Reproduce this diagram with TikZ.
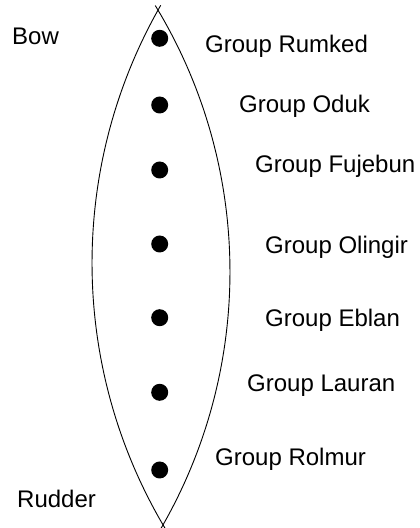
\documentclass[tikz,border=0pt]{standalone}
\usepackage{fontspec}
\setmainfont{Liberation Sans}
\begin{document}
\begin{tikzpicture}[x=1pt,y=1pt,
  hull/.style={line width=0.9pt,black},
  seat/.style={circle,fill=black,inner sep=0pt,minimum size=17pt},
  lbl/.style={anchor=base west,inner sep=0pt,font=\fontsize{24}{28}\selectfont}]
\useasboundingbox (0,0) rectangle (420,528);
% hull: two circular arcs
\draw[hull] ([shift={(150.15:518)}]610,264.9) arc[start angle=150.15, end angle=210.97, radius=518];
\draw[hull] ([shift={(31.35:511.8)}]-281.8,256.2) arc[start angle=31.35, end angle=-30.25, radius=511.8];
% seats
\node[seat] (d1) at (159.7,489.7) {};
\node[seat] (d2) at (159.7,423) {};
\node[seat] (d3) at (159.7,358) {};
\node[seat] (d4) at (159.7,284) {};
\node[seat] (d5) at (159.7,210.3) {};
\node[seat] (d6) at (159.7,135.7) {};
\node[seat] (d7) at (159.7,58) {};
% labels
\node[lbl] (bow) at (12,483) {Bow};
\node[lbl] (rudder) at (17,20) {Rudder};
\node[lbl] (g1) at (205,475) {Group Rumked};
\node[lbl] (g2) at (239,415) {Group Oduk};
\node[lbl] (g3) at (255,355) {Group Fujebun};
\node[lbl] (g4) at (265,274) {Group Olingir};
\node[lbl] (g5) at (265,201) {Group Eblan};
\node[lbl] (g6) at (247,136) {Group Lauran};
\node[lbl] (g7) at (215,62) {Group Rolmur};
\end{tikzpicture}
\end{document}
